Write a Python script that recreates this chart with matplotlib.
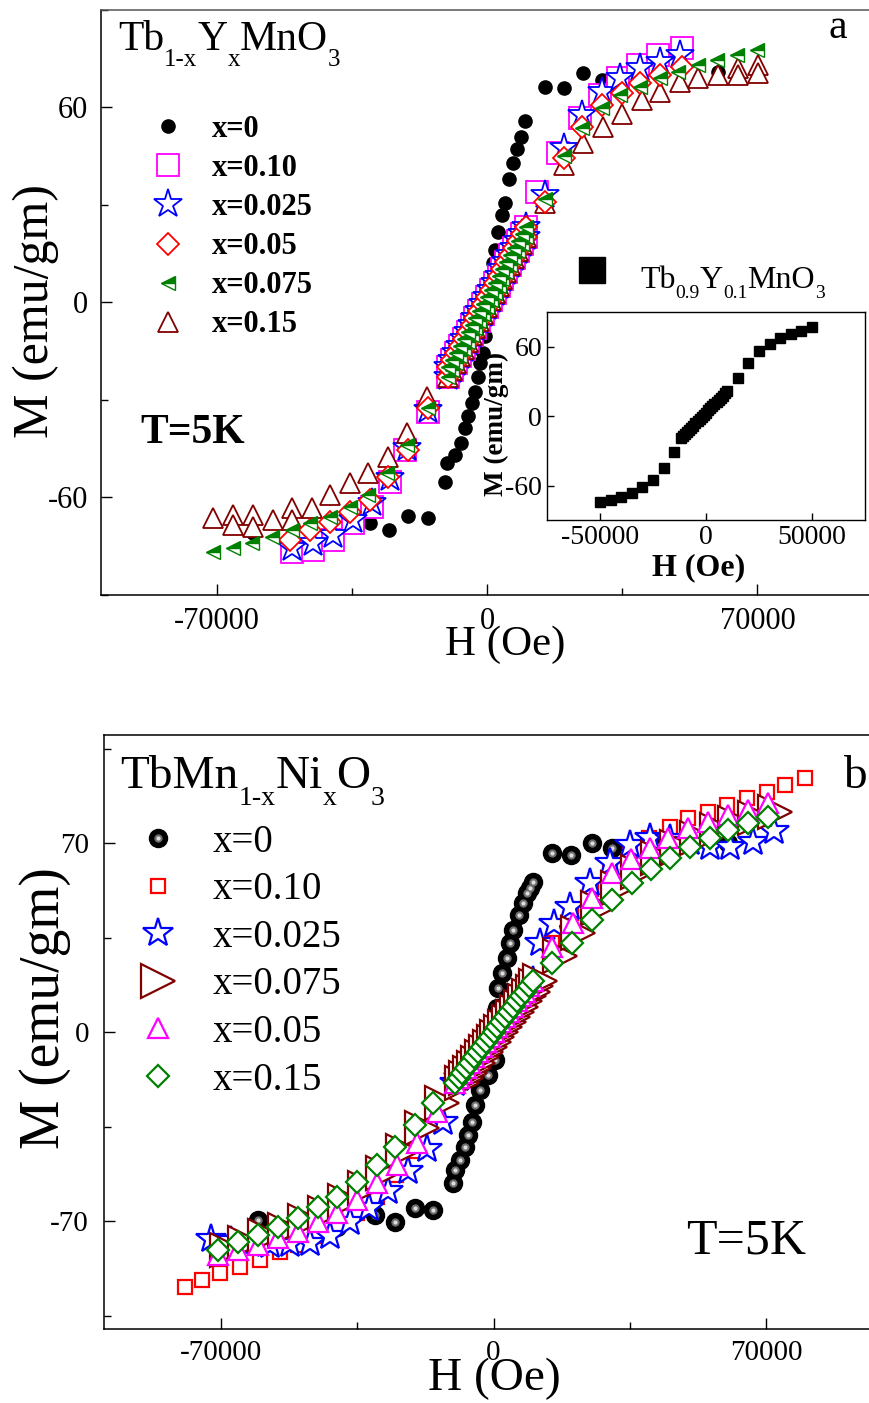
import matplotlib.pyplot as plt
from matplotlib.ticker import MultipleLocator

plt.rcParams['font.family'] = ['Liberation Serif', 'DejaVu Serif']
plt.rcParams['axes.unicode_minus'] = False

W, H = 869, 1403


def fx(px):
    return px / W


def fy(py):
    return 1 - py / H


# ---------------- panel a : Tb1-xYxMnO3 ----------------
# dense central part (two branches)
h_core_a = [-10000, -9000, -8000, -7000, -6000, -5000, -4000, -3000, -2000, -1000, 0,
            1000, 2000, 3000, 4000, 5000, 6000, 7000, 8000, 9000, 10000]
m_core_a_up = [-20.0, -17.9, -15.7, -13.5, -11.4, -9.2, -7.1, -4.9, -2.8, -0.6, 1.5,
               3.7, 5.8, 8.0, 10.1, 12.3, 14.4, 16.6, 18.7, 20.9, 23.0]
m_core_a_dn = [-23.0, -20.9, -18.7, -16.6, -14.4, -12.3, -10.1, -8.0, -5.8, -3.7, -1.5,
               0.6, 2.8, 4.9, 7.1, 9.2, 11.4, 13.5, 15.7, 17.9, 20.0]

# x=0
h_a_x0 = [-60500, -30300, -25300, -20400, -15200, -10900, -10400, -8300, -6600, -5700,
          -4800, -4000, -3100, -2300, -1800, -1100, -500, 0, 500, 1000, 1500, 2100, 2900,
          3800, 4700, 5800, 6800, 7800, 8700, 9800, 15000, 19800, 24900, 29700, 59900]
m_a_x0 = [-71.2, -68.1, -70.2, -65.8, -66.6, -55.3, -49.6, -47.1, -43.5, -38.9,
          -35.1, -31.2, -27.6, -23.0, -18.9, -15.8, -10.5, -4.0, 2.5, 7.0, 12.0, 16.0, 21.6,
          26.8, 30.4, 38.0, 42.7, 47.0, 50.7, 55.7, 66.3, 65.7, 70.4, 68.3, 70.9]

# x=0.10
h_a_010_neg = [-50500, -45000, -39800, -34600, -29800, -25100, -21200, -15200]
m_a_010_neg = [-76.8, -76.3, -73.2, -68.1, -63.0, -55.3, -45.5, -33.8]
h_a_010_pos = [12900, 18500, 24100, 29200, 34000, 39200, 44300, 50400]
m_a_010_pos = [33.9, 45.7, 56.5, 63.7, 68.8, 72.9, 76.0, 78.1]

# x=0.025
h_a_0025_neg = [-50500, -45000, -39800, -34600, -29800, -25100, -20800, -15200]
m_a_0025_neg = [-75.8, -74.3, -71.7, -67.1, -61.9, -54.3, -45.0, -33.2]
h_a_0025_pos = [15000, 19800, 24500, 29700, 34400, 39600, 44800, 50000]
m_a_0025_pos = [32.8, 47.3, 57.5, 64.7, 68.8, 71.9, 74.0, 76.0]

# x=0.05
h_a_005_neg = [-51000, -45800, -40600, -35500, -30300, -25500, -20400, -15200]
m_a_005_neg = [-73.2, -70.2, -67.6, -64.5, -60.9, -53.7, -45.5, -32.7]
h_a_005_pos = [15000, 19800, 24500, 29700, 34900, 39600, 44800, 50400]
m_a_005_pos = [30.9, 44.2, 53.9, 60.6, 64.2, 67.3, 69.8, 72.4]

# x=0.075
h_a_0075_neg = [-70800, -65700, -60900, -55700, -50500, -45800, -40600, -35500, -30700,
                -26000, -20800, -15200]
m_a_0075_neg = [-76.8, -75.8, -74.3, -72.2, -70.2, -68.1, -66.0, -63.0, -59.4,
                -52.7, -44.0, -32.7]
h_a_0075_pos = [15000, 19800, 24500, 29700, 34400, 39600, 44800, 49500, 54700, 59500,
                64600, 69800]
m_a_0075_pos = [31.7, 44.8, 53.4, 59.6, 63.7, 66.2, 68.8, 70.9, 72.9, 74.5, 76.0, 77.5]

# x=0.15
h_a_015_neg = [-70800, -65700, -65700, -60500, -60500, -55300, -50500, -50500, -45400,
               -40600, -35500, -30700, -25500, -20800, -15600]
m_a_015_neg = [-66.6, -65.5, -68.5, -65.5, -69.1, -67.1, -63.5, -67.0, -63.5,
               -59.4, -55.8, -52.7, -47.6, -40.4, -29.1]
h_a_015_pos = [15000, 19800, 24900, 30100, 34900, 40000, 44800, 50000, 54700, 59900,
               65000, 65000, 70200, 70200]
m_a_015_pos = [30.4, 42.2, 48.8, 53.9, 58.0, 62.2, 64.7, 67.8, 68.8, 69.8,
               71.9, 70.0, 72.9, 70.4]

# inset Tb0.9Y0.1MnO3
h_inset = [-50000, -45000, -40000, -35000, -30000, -25000, -20000, -15000,
           -12000, -11000, -10000, -9000, -8000, -7000, -6000, -5000, -4000, -3000, -2000,
           -1000, 0, 1000, 2000, 3000, 4000, 5000, 6000, 7000, 8000, 9000, 10000,
           15000, 20000, 25000, 30000, 35000, 40000, 45000, 50000]
m_inset = [-74.6, -72.6, -70.0, -66.3, -61.4, -54.9, -44.9, -31.4,
           -19.3, -17.4, -15.6, -13.8, -11.9, -10.0, -8.2, -6.4, -4.5, -2.6, -0.8,
           1.0, 2.9, 4.8, 6.6, 8.4, 10.3, 12.2, 14.0, 15.8, 17.7, 19.6, 21.4,
           32.8, 45.7, 56.0, 62.3, 67.1, 70.9, 73.7, 76.6]

# ---------------- panel b : TbMn1-xNixO3 ----------------
h_core_b = [-10000, -9000, -8000, -7000, -6000, -5000, -4000, -3000, -2000, -1000, 0,
            1000, 2000, 3000, 4000, 5000, 6000, 7000, 8000, 9000, 10000]
h_core_b_tri = [-8000, -7000, -6000, -5000, -4000, -3000, -2000, -1000, 0, 1000, 2000,
                3000, 4000, 5000, 6000, 7000, 8000, 9000, 10000, 11000, 12000]
m_core_b = [-18.8, -16.9, -15.0, -13.2, -11.3, -9.4, -7.5, -5.6, -3.8, -1.9, 0.0,
            1.9, 3.8, 5.6, 7.5, 9.4, 11.3, 13.2, 15.0, 16.9, 18.8]

h_b_x0 = [-60500, -40300, -30500, -25300, -20200, -15500, -10400, -9900, -8600, -7400,
          -6500, -5600, -4800, -3500, -1400, 400, 600, 800, 1000, 1200, 2100, 3400, 4200,
          5100, 6400, 7600, 8500, 9400, 10200, 14900, 19800, 25200, 30300, 39800, 60300]
m_b_x0 = [-69.6, -72.1, -67.8, -70.3, -65.3, -65.9, -56.0, -51.1, -47.4, -42.5,
          -38.2, -33.2, -27.0, -21.5, -15.9, -10.4, -4.0, 2.0, 9.0, 16.2, 21.7, 27.3, 32.9,
          37.8, 43.3, 47.7, 51.4, 53.5, 55.7, 66.2, 65.6, 69.9, 68.0, 71.1, 69.9]

h_b_010_neg = [-79300, -75000, -70300, -65200, -60000, -54900, -50200, -45000, -40000,
               -35000, -30000, -25000, -20000, -15000]
m_b_010_neg = [-94.3, -91.9, -89.4, -86.9, -84.4, -81.4, -78.9, -75.5, -71.5,
               -67.0, -61.0, -53.0, -44.0, -33.0]
h_b_010_pos = [15000, 20000, 25000, 30000, 35000, 40000, 45300, 50000, 55200, 59900,
               65000, 70200, 74900, 80000]
m_b_010_pos = [33.0, 44.0, 53.0, 61.0, 67.0, 72.0, 76.0, 79.1, 81.6, 84.1,
               86.6, 89.0, 91.5, 94.0]

h_b_0025_neg = [-72500, -67500, -62500, -57500, -52300, -47200, -42000, -37000, -32000,
                -27000, -22000, -17000, -13000]
m_b_0025_neg = [-76.5, -77.5, -78.5, -79.0, -78.5, -78.0, -75.5, -70.5, -65.0,
                -59.0, -51.5, -43.5, -33.5]
h_b_0025_pos = [12000, 15500, 19600, 24800, 29900, 35000, 40200, 45300, 50500, 55600,
                60800, 66700, 71900]
m_b_0025_pos = [32.9, 40.0, 46.4, 55.1, 62.5, 69.3, 71.7, 71.5, 70.5, 68.5,
                68.5, 70.5, 74.5]

h_b_0075_neg = [-68600, -63900, -58700, -53600, -48500, -43300, -38200, -33000, -28300,
                -23200, -18500, -13300]
m_b_0075_neg = [-80.6, -78.2, -75.7, -73.2, -70.1, -67.0, -62.7, -57.8, -52.2,
                -44.2, -35.6, -26.3]
h_b_0075_pos = [17100, 21800, 26900, 32000, 37200, 42300, 47000, 52200, 57300, 62000,
                67200, 72300]
m_b_0075_pos = [28.0, 36.7, 45.9, 53.2, 59.4, 64.3, 68.6, 71.7, 74.8, 77.3, 79.4, 81.4]

h_b_005_neg = [-70700, -65600, -60400, -55300, -50200, -45000, -40300, -35200, -30000,
               -24900, -19800, -14600]
m_b_005_neg = [-82.6, -80.7, -78.9, -76.4, -74.0, -70.3, -67.2, -62.2, -56.0,
               -49.3, -41.2, -29.5]
h_b_005_pos = [14900, 20500, 25200, 30300, 35300, 40200, 44900, 50000, 55200, 60300,
               65400, 70600]
m_b_005_pos = [31.6, 40.3, 49.5, 58.8, 64.0, 68.0, 71.7, 75.4, 77.9, 80.4, 82.2, 84.7]

h_b_015_neg = [-70700, -65600, -60400, -55300, -50200, -45000, -40300, -35200, -30000,
               -25300, -20200, -15500]
m_b_015_neg = [-80.7, -77.7, -75.2, -72.1, -69.0, -64.7, -61.0, -55.4, -49.3,
               -42.5, -34.4, -26.4]
h_b_015_pos = [14900, 20100, 25200, 30300, 35500, 40400, 45300, 50400, 55600, 60300,
               65400, 70600]
m_b_015_pos = [25.4, 32.9, 41.5, 48.9, 55.1, 60.3, 64.3, 68.6, 71.7, 74.8, 77.3, 79.8]

fig = plt.figure(figsize=(W / 100, H / 100), dpi=100)
renderer = fig.canvas.get_renderer()


def formula(x_px, base_px, parts, size, sub_size, drop_px, **kw):
    # chemical formula written piece by piece, subscripts lowered by drop_px
    x = x_px
    for txt, sub in parts:
        y = base_px + drop_px if sub else base_px
        t = fig.text(fx(x), fy(y), txt, fontsize=sub_size if sub else size,
                     va='baseline', ha='left', **kw)
        x = t.get_window_extent(renderer=renderer).x1


def doped(ax, hn, mn, hp, mp, core_h, core_ms, **kw):
    # outer points, then the dense central loop
    first = None
    for k, cm in enumerate(core_ms):
        hh = hn + core_h + hp if k == 0 else core_h
        mm = mn + cm + mp if k == 0 else cm
        ln, = ax.plot(hh, mm, ls='none', **kw)
        if first is None:
            first = ln
    return first


# ================= panel a =================
ax1 = fig.add_axes([fx(100.6), fy(594.5), 772.8 / W, 585 / H])
ax1.set_xlim(-100000, 100000)
ax1.set_ylim(-90, 90)

mew = 1.3
l_x0, = ax1.plot(h_a_x0, m_a_x0, 'o', ms=9.5, color='black', ls='none')
cores_a = [m_core_a_dn, m_core_a_up]
l_010 = doped(ax1, h_a_010_neg, m_a_010_neg, h_a_010_pos, m_a_010_pos, h_core_a, cores_a,
              marker='s', ms=16, mfc='white', mec='#ff00ff', mew=mew)
l_0025 = doped(ax1, h_a_0025_neg, m_a_0025_neg, h_a_0025_pos, m_a_0025_pos, h_core_a, cores_a,
               marker='*', ms=21, mfc='white', mec='#0000ff', mew=mew)
l_015 = doped(ax1, h_a_015_neg, m_a_015_neg, h_a_015_pos, m_a_015_pos, h_core_a, cores_a,
              marker='^', ms=14, mfc='white', mec='#800000', mew=mew)
l_005 = doped(ax1, h_a_005_neg, m_a_005_neg, h_a_005_pos, m_a_005_pos, h_core_a, cores_a,
              marker='D', ms=11.5, mfc='white', mec='#ff0000', mew=mew)
l_0075 = doped(ax1, h_a_0075_neg, m_a_0075_neg, h_a_0075_pos, m_a_0075_pos, h_core_a, cores_a,
               marker='<', ms=10, mfc='#008000', mfcalt='white', fillstyle='top',
               mec='#008000', mew=1.0)

ax1.set_xticks([-70000, 0, 70000])
ax1.set_xticklabels(['-70000', '0', '70000'])
ax1.set_yticks([-60, 0, 60])
ax1.xaxis.set_minor_locator(MultipleLocator(35000))
ax1.yaxis.set_minor_locator(MultipleLocator(30))
ax1.tick_params(which='both', direction='in', top=False, right=False, width=1)
ax1.tick_params(which='major', length=8, labelsize=22)
ax1.tick_params(axis='x', which='major', pad=9)
ax1.tick_params(axis='y', which='major', pad=9)
ax1.tick_params(which='minor', length=5)
for s in ax1.spines.values():
    s.set_linewidth(1.1)
ax1.spines['top'].set_color('#555555')

ax1.legend([l_x0, l_010, l_0025, l_005, l_0075, l_015],
           ['x=0', 'x=0.10', 'x=0.025', 'x=0.05', 'x=0.075', 'x=0.15'],
           loc='upper left', bbox_to_anchor=(fx(146.6), fy(115)), bbox_transform=fig.transFigure,
           frameon=False, borderpad=0, borderaxespad=0, handlelength=1.4, handletextpad=0.74,
           labelspacing=0.33, prop={'size': 22, 'weight': 'bold'})

formula(118, 50, [('Tb', False), ('1-x', True), ('Y', False), ('x', True),
                  ('MnO', False), ('3', True)], 30, 18, 16)
fig.text(fx(838), fy(38), 'a', fontsize=30, ha='center', va='baseline')
fig.text(fx(140), fy(443), 'T=5K', fontsize=30, fontweight='bold', va='baseline')
fig.text(fx(36), fy(311), 'M (emu/gm)', rotation=90, fontsize=36, ha='center', va='center')
fig.text(fx(505), fy(645), 'H (Oe)', fontsize=31, ha='center', va='center')

# inset
axi = fig.add_axes([fx(547), fy(520.3), 318 / W, 208.5 / H])
axi.set_facecolor('white')
l_in, = axi.plot(h_inset, m_inset, 's', ms=7, color='black', ls='none')
axi.set_xlim(-75000, 75000)
axi.set_ylim(-90, 90)
axi.set_xticks([-50000, 0, 50000])
axi.set_xticklabels(['-50000', '0', '50000'])
axi.set_yticks([-60, 0, 60])
axi.tick_params(direction='in', length=5, width=1, labelsize=20, pad=3.5)
for s in axi.spines.values():
    s.set_linewidth(1.0)
axi.legend([l_in], [''],
           loc='center left', bbox_to_anchor=(fx(576), fy(273)), bbox_transform=fig.transFigure,
           frameon=False, borderpad=0, borderaxespad=0, handlelength=1.0, handletextpad=0.0,
           markerscale=2.6, prop={'size': 23})
formula(640, 288, [('Tb', False), ('0.9', True), ('Y', False), ('0.1', True),
                   ('MnO', False), ('3', True)], 23, 14, 10)
fig.text(fx(699), fy(568), 'H (Oe)', fontsize=23, fontweight='bold', ha='center', va='center')
fig.text(fx(496), fy(424), 'M (emu/gm)', rotation=90, fontsize=19.5, fontweight='bold',
         ha='center', va='center')

# ================= panel b =================
ax2 = fig.add_axes([fx(104.3), fy(1329), 778.6 / W, 594 / H])
ax2.set_xlim(-100000, 100000)
ax2.set_ylim(-110, 110)

mew2 = 1.6
s0, = ax2.plot(h_b_x0, m_b_x0, 'o', ms=13, color='black', ls='none')
s1, = ax2.plot(h_b_x0, m_b_x0, 'o', ms=6, color='#6e6e6e', mew=0, ls='none')
s2, = ax2.plot(h_b_x0, m_b_x0, 'o', ms=3, color='#dddddd', mew=0, ls='none')
cores_b = [m_core_b]
k_010 = doped(ax2, h_b_010_neg, m_b_010_neg, h_b_010_pos, m_b_010_pos, h_core_b, cores_b,
              marker='s', ms=10, mfc='white', mec='#ff0000', mew=mew2)
k_0025 = doped(ax2, h_b_0025_neg, m_b_0025_neg, h_b_0025_pos, m_b_0025_pos, h_core_b, cores_b,
               marker='*', ms=22, mfc='white', mec='#0000ff', mew=mew2)
k_0075 = doped(ax2, h_b_0075_neg, m_b_0075_neg, h_b_0075_pos, m_b_0075_pos, h_core_b_tri, cores_b,
               marker='>', ms=24, mfc='white', mec='#800000', mew=mew2)
k_005 = doped(ax2, h_b_005_neg, m_b_005_neg, h_b_005_pos, m_b_005_pos, h_core_b, cores_b,
              marker='^', ms=14.5, mfc='white', mec='#ff00ff', mew=mew2)
k_015 = doped(ax2, h_b_015_neg, m_b_015_neg, h_b_015_pos, m_b_015_pos, h_core_b, cores_b,
              marker='D', ms=11.5, mfc='white', mec='#008000', mew=mew2)

ax2.set_xticks([-70000, 0, 70000])
ax2.set_xticklabels(['-70000', '0', '70000'])
ax2.set_yticks([-70, 0, 70])
ax2.xaxis.set_minor_locator(MultipleLocator(35000))
ax2.yaxis.set_minor_locator(MultipleLocator(35))
ax2.tick_params(which='both', direction='in', top=False, right=False, width=1)
ax2.tick_params(which='major', length=8, labelsize=21)
ax2.tick_params(axis='x', which='major', pad=8)
ax2.tick_params(axis='y', which='major', pad=11)
ax2.tick_params(which='minor', length=5)
for s in ax2.spines.values():
    s.set_linewidth(1.1)

ax2.legend([(s0, s1, s2), k_010, k_0025, k_0075, k_005, k_015],
           ['x=0', 'x=0.10', 'x=0.025', 'x=0.075', 'x=0.05', 'x=0.15'],
           loc='upper left', bbox_to_anchor=(fx(134.7), fy(824)), bbox_transform=fig.transFigure,
           frameon=False, borderpad=0, borderaxespad=0, handlelength=1.2, handletextpad=0.81,
           labelspacing=0.27, prop={'size': 28})

formula(120, 788, [('TbMn', False), ('1-x', True), ('Ni', False), ('x', True),
                   ('O', False), ('3', True)], 34, 20, 17)
fig.text(fx(855), fy(788), 'b', fontsize=34, ha='center', va='baseline')
fig.text(fx(686), fy(1254), 'T=5K', fontsize=36, va='baseline')
fig.text(fx(45), fy(1008), 'M (emu/gm)', rotation=90, fontsize=40, ha='center', va='center')
fig.text(fx(494), fy(1379), 'H (Oe)', fontsize=34, ha='center', va='center')

fig.savefig('out.png', dpi=100)
